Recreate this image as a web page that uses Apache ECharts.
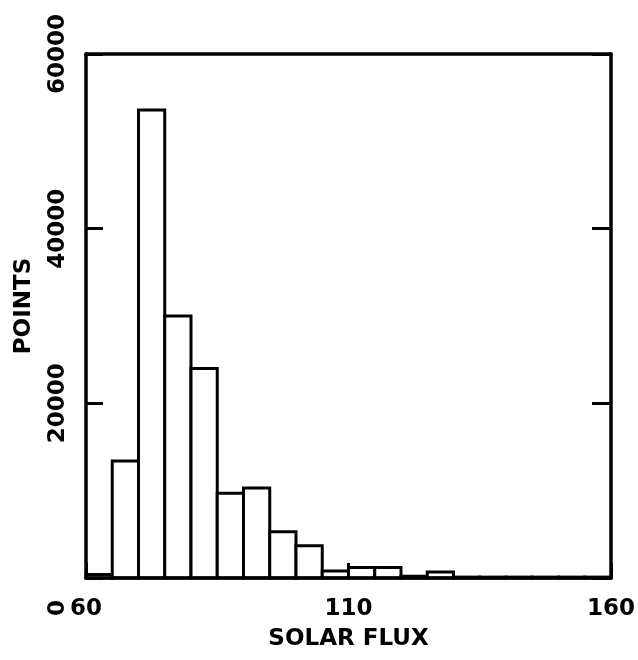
<!DOCTYPE html>
<html>
<head>
<meta charset="utf-8">
<script src="https://cdn.jsdelivr.net/npm/echarts@6/dist/echarts.min.js"></script>
<style>
  html, body { margin: 0; padding: 0; background: #fff; }
  #chart { width: 638px; height: 660px; }
</style>
</head>
<body>
<div id="chart"></div>
<script>
// Histogram of solar flux values: bin lower edges (width 5) and point counts
const binWidth = 5;
const binStarts = [60, 65, 70, 75, 80, 85, 90, 95, 100, 105, 110, 115, 120, 125, 130, 135, 140, 145, 150, 155];
const counts = [400, 13400, 53600, 30000, 24000, 9700, 10300, 5300, 3700, 800, 1200, 1200, 200, 700, 100, 100, 100, 100, 100, 100];

const xTicks = [60, 110, 160];
const yTicks = [0, 20000, 40000, 60000];

const FONT = 'DejaVu Sans';
const INK = '#000';

const histData = binStarts.map((s, i) => [s, s + binWidth, counts[i]]);

const chart = echarts.init(document.getElementById('chart'), null, { renderer: 'canvas' });

const labelStyle = { color: INK, fontFamily: FONT, fontWeight: 'bold', fontSize: 23 };

chart.setOption({
  animation: false,
  backgroundColor: '#fff',
  grid: { left: 86, right: 27, top: 54, bottom: 82, show: false },
  xAxis: [{
    type: 'value', z: 10,
    min: xTicks[0], max: xTicks[xTicks.length - 1], interval: 50,
    name: 'SOLAR FLUX', nameLocation: 'middle', nameGap: 50,
    nameTextStyle: labelStyle,
    axisLine: { show: true, lineStyle: { color: INK, width: 3.5 } },
    axisTick: { show: true, inside: true, length: 15, lineStyle: { color: INK, width: 3 } },
    axisLabel: Object.assign({ margin: 20 }, labelStyle),
    splitLine: { show: false }
  }, {
    type: 'value', position: 'top', z: 10,
    min: xTicks[0], max: xTicks[xTicks.length - 1],
    axisLine: { show: true, onZero: false, lineStyle: { color: INK, width: 3.5 } },
    axisTick: { show: false }, axisLabel: { show: false }, splitLine: { show: false }
  }],
  yAxis: [{
    type: 'value', z: 10,
    min: yTicks[0], max: yTicks[yTicks.length - 1], interval: 20000,
    name: 'POINTS', nameLocation: 'middle', nameGap: 50, nameRotate: 90,
    nameTextStyle: Object.assign({ padding: [0, 0, 0, 20] }, labelStyle),
    axisLine: { show: true, lineStyle: { color: INK, width: 3.5 } },
    axisTick: { show: true, inside: true, length: 17, lineStyle: { color: INK, width: 3 } },
    axisLabel: Object.assign({
      rotate: 90, margin: 16,
      formatter: v => (v === 0 ? '' : String(v))
    }, labelStyle),
    splitLine: { show: false }
  }, {
    type: 'value', position: 'right', z: 10,
    min: yTicks[0], max: yTicks[yTicks.length - 1], interval: 20000,
    axisLine: { show: true, onZero: false, lineStyle: { color: INK, width: 3.5 } },
    axisTick: { show: true, inside: true, length: 19, lineStyle: { color: INK, width: 3 } },
    axisLabel: { show: false }, splitLine: { show: false }
  }],
  series: [{
    type: 'custom', z: 1,
    xAxisIndex: 0, yAxisIndex: 0,
    data: histData,
    encode: { x: [0, 1], y: 2 },
    renderItem: function (params, api) {
      const p0 = api.coord([api.value(0), 0]);
      const p1 = api.coord([api.value(1), api.value(2)]);
      return {
        type: 'rect',
        shape: { x: p0[0], y: p1[1], width: p1[0] - p0[0], height: p0[1] - p1[1] },
        style: { fill: '#fff', stroke: INK, lineWidth: 3 }
      };
    }
  }]
});

// Zero label of the count axis, set below the corner as on the plotter output
const zeroPt = chart.convertToPixel({ yAxisIndex: 0 }, 0);
const leftPt = chart.convertToPixel({ xAxisIndex: 0 }, xTicks[0]);
chart.setOption({
  graphic: [{
    type: 'text',
    x: leftPt - 28, y: zeroPt + 30,
    rotation: Math.PI / 2,
    style: {
      text: '0', fill: INK, font: 'bold 23px "DejaVu Sans"',
      align: 'center', verticalAlign: 'middle'
    }
  }]
});
</script>
</body>
</html>
